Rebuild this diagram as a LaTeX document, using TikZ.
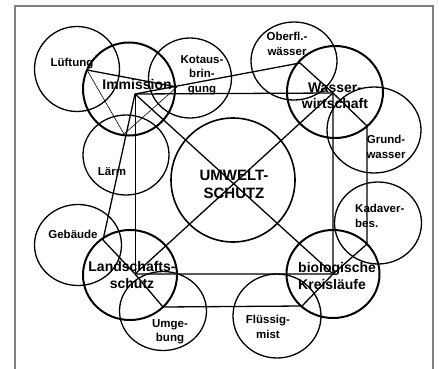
\documentclass[tikz,border=0pt]{standalone}
\usepackage{fontspec}
\setmainfont{Liberation Sans}[BoldFont={Liberation Sans Bold}]
\usetikzlibrary{shapes.geometric}

\tikzset{
  ring/.style={draw, ellipse, inner sep=0pt, line width=1.3pt,
    minimum width=86pt, minimum height=81pt},
  hub/.style={ring, line width=2pt, minimum width=94pt, minimum height=90pt},
  sattext/.style={font={\fontsize{11.5}{14.5}\selectfont\bfseries}, align=center, inner sep=0pt},
  hubtext/.style={font={\fontsize{14}{16.5}\selectfont\bfseries}, align=center, inner sep=0pt},
  link/.style={line width=1.3pt},
  thinlink/.style={line width=0.6pt},
}

\begin{document}
\begin{tikzpicture}[x=1pt,y=-1pt]
  \useasboundingbox (0,0) rectangle (439,369);
  \draw[line width=1.3pt,gray] (15,369) -- (15,6) -- (433,6) -- (433,369);

  % circles
  \node[ring, minimum width=85pt, minimum height=85pt] (lueftung) at (77,69) {};
  \node[ring, minimum width=83pt, minimum height=80pt] (kotaus) at (190,78) {};
  \node[ring, minimum width=86pt, minimum height=78pt] (oberfl) at (294,61) {};
  \node[ring, minimum width=94pt, minimum height=86pt] (grund) at (374,130) {};
  \node[ring, minimum width=87pt, minimum height=82pt] (kadaver) at (378,223) {};
  \node[ring, minimum width=86pt, minimum height=80pt] (laerm) at (126,155) {};
  \node[ring, minimum width=87pt, minimum height=81pt] (gebaeude) at (78,245) {};
  \node[ring, minimum width=87pt, minimum height=79pt] (umgebung) at (163,311) {};
  \node[ring, minimum width=88pt, minimum height=84pt] (fluessig) at (277,316) {};
  \node[hub, minimum width=92pt, minimum height=93pt] (immission) at (129,89) {};
  \node[hub, minimum width=96pt, minimum height=92pt] (wasser) at (335,92) {};
  \node[hub, minimum width=94pt, minimum height=90pt] (landschaft) at (130,275) {};
  \node[hub, minimum width=93pt, minimum height=88pt] (bio) at (333,274) {};
  \node[ring, line width=1.6pt, minimum width=124pt, minimum height=124pt] (umwelt) at (233,180) {};

  % points where the links meet
  \coordinate (cI) at (135,94);
  \coordinate (cW) at (333,93);
  \coordinate (cB) at (333,274);
  \coordinate (cL) at (135,274);
  \coordinate (pLue) at (87,70);
  \coordinate (pKot) at (177,87);
  \coordinate (pLae) at (124,134);
  \coordinate (pObe) at (300,63);
  \coordinate (pGru) at (367,126);
  \coordinate (pKad) at (367,244);
  \coordinate (pFlu) at (302,306);
  \coordinate (pUmg) at (163,307);
  \coordinate (pGeb) at (103,240);

  \draw[link] (pLue) -- (pKot);
  \draw[thinlink] (pLue) -- (pLae) -- (pKot);
  \draw[link] (cI) -- (pObe);
  \draw[link] (cI) -- (cW) -- (cB) -- (cL);
  \draw[line width=1pt] (cI) -- (cL);
  \draw[link] (cI) -- (cB);
  \draw[link] (cW) -- (cL);
  \draw[link] (pObe) -- (cW) -- (pGru) -- (pKad) -- (cB) -- (pFlu) -- (pUmg)
    -- (cL) -- (pGeb) -- (cI);

  % labels
  \node[sattext] (lueftungT) at (72,64) {Lüftung};
  \node[hubtext] (immissionT) at (137,84) {Immission};
  \node[sattext] (kotausT) at (202,75) {Kotaus-\\brin-\\gung};
  \node[sattext] (oberflT) at (287,44) {Oberfl.-\\wässer};
  \node[hubtext] (wasserT) at (335,96) {Wasser-\\wirtschaft};
  \node[sattext] (grundT) at (386,147) {Grund-\\wasser};
  \node[sattext] (laermT) at (112,172) {Lärm};
  \node[hubtext, font={\fontsize{15}{18}\selectfont\bfseries}] (umweltT) at (234,184) {UMWELT-\\SCHUTZ};
  \node[sattext] (gebaeudeT) at (73,234) {Gebäude};
  \node[hubtext] (landschaftT) at (132,275) {Landschafts-\\schutz};
  \node[sattext] (umgebungT) at (170,332) {Umge-\\bung};
  \node[sattext, align=left, anchor=west] (kadaverT) at (355,216) {Kadaver-\\bes.};
  \node[hubtext, align=left, anchor=west] (bioT) at (298,276) {biologische\\Kreisläufe};
  \node[sattext] (fluessigT) at (268,327) {Flüssig-\\mist};
\end{tikzpicture}
\end{document}
